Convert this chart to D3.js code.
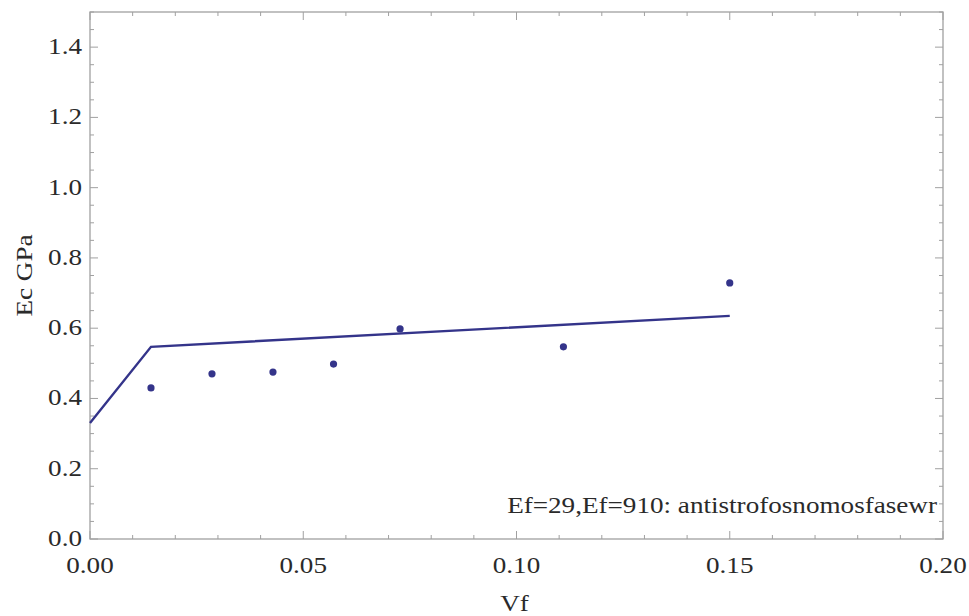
<!DOCTYPE html>
<html><head><meta charset="utf-8">
<script src="https://cdn.jsdelivr.net/npm/d3@7"></script>
<style>body{margin:0;background:#fff}svg{display:block}text{font-family:"Liberation Serif","DejaVu Serif",serif;fill:#2a2a2a}</style>
</head><body>
<script>
const fitVf = [0, 0.0143, 0.15];
const fitEc = [0.33, 0.547, 0.635];
const dataVf = [0.0143, 0.0286, 0.0429, 0.0571, 0.0727, 0.111, 0.150];
const dataEc = [0.43, 0.47, 0.475, 0.498, 0.598, 0.547, 0.729];
const xTicks = [0, 0.05, 0.10, 0.15, 0.20];
const xTickLabels = ["0.00", "0.05", "0.10", "0.15", "0.20"];
const yTicks = [0, 0.2, 0.4, 0.6, 0.8, 1.0, 1.2, 1.4];
const yTickLabels = ["0.0", "0.2", "0.4", "0.6", "0.8", "1.0", "1.2", "1.4"];
const legendText = "Ef=29,Ef=910: antistrofosnomosfasewr";

const W = 969, H = 616;
const m = {l: 90, r: 26, t: 12, b: 77};
const svg = d3.select("body").append("svg").attr("width", W).attr("height", H);
const x = d3.scaleLinear().domain([0, 0.2]).range([m.l, W - m.r]);
const y = d3.scaleLinear().domain([0, 1.5]).range([H - m.b, m.t]);
const col = "#34348a";
const frameCol = "#a0a0a0";
const SX = 1.18, FS = 23;

function label(px, py, txt, anchor, rot) {
  return svg.append("text")
    .attr("transform", `translate(${px},${py})${rot ? " rotate(" + rot + ")" : ""} scale(${SX},1)`)
    .attr("text-anchor", anchor).attr("font-size", FS).text(txt);
}

// frame
svg.append("rect").attr("x", m.l).attr("y", m.t).attr("width", W - m.r - m.l).attr("height", H - m.b - m.t)
  .attr("fill", "none").attr("stroke", frameCol).attr("stroke-width", 1.3);

const g = svg.append("g");
const minorX = d3.range(0, 0.2001, 0.01);
const minorY = d3.range(0, 1.5001, 0.05);
minorX.forEach(v => {
  const major = xTicks.some(t => Math.abs(t - v) < 1e-6);
  const len = major ? 8 : 4;
  g.append("line").attr("x1", x(v)).attr("x2", x(v)).attr("y1", y(0)).attr("y2", y(0) - len).attr("stroke", frameCol);
  g.append("line").attr("x1", x(v)).attr("x2", x(v)).attr("y1", y(1.5)).attr("y2", y(1.5) + len).attr("stroke", frameCol);
});
minorY.forEach(v => {
  const major = yTicks.some(t => Math.abs(t - v) < 1e-6);
  const len = major ? 8 : 4;
  g.append("line").attr("y1", y(v)).attr("y2", y(v)).attr("x1", x(0)).attr("x2", x(0) + len).attr("stroke", frameCol);
  g.append("line").attr("y1", y(v)).attr("y2", y(v)).attr("x1", x(0.2)).attr("x2", x(0.2) - len).attr("stroke", frameCol);
});

xTicks.forEach((t, i) => label(x(t), y(0) + 34, xTickLabels[i], "middle"));
yTicks.forEach((t, i) => label(x(0) - 8, y(t) + 7, yTickLabels[i], "end"));

label(x(0.1) - 2, 611, "Vf", "middle");
label(32, y(0.75), "Ec GPa", "middle", -90);

// fit line
const line = d3.line().x(d => x(d[0])).y(d => y(d[1]));
svg.append("path").datum(fitVf.map((v, i) => [v, fitEc[i]])).attr("d", line)
  .attr("fill", "none").attr("stroke", col).attr("stroke-width", 2.4);

// points
svg.selectAll("circle.pt").data(dataVf.map((v, i) => [v, dataEc[i]])).enter().append("circle")
  .attr("cx", d => x(d[0])).attr("cy", d => y(d[1])).attr("r", 3.6).attr("fill", col);

label(937, 513, legendText, "end");
</script>
</body></html>
